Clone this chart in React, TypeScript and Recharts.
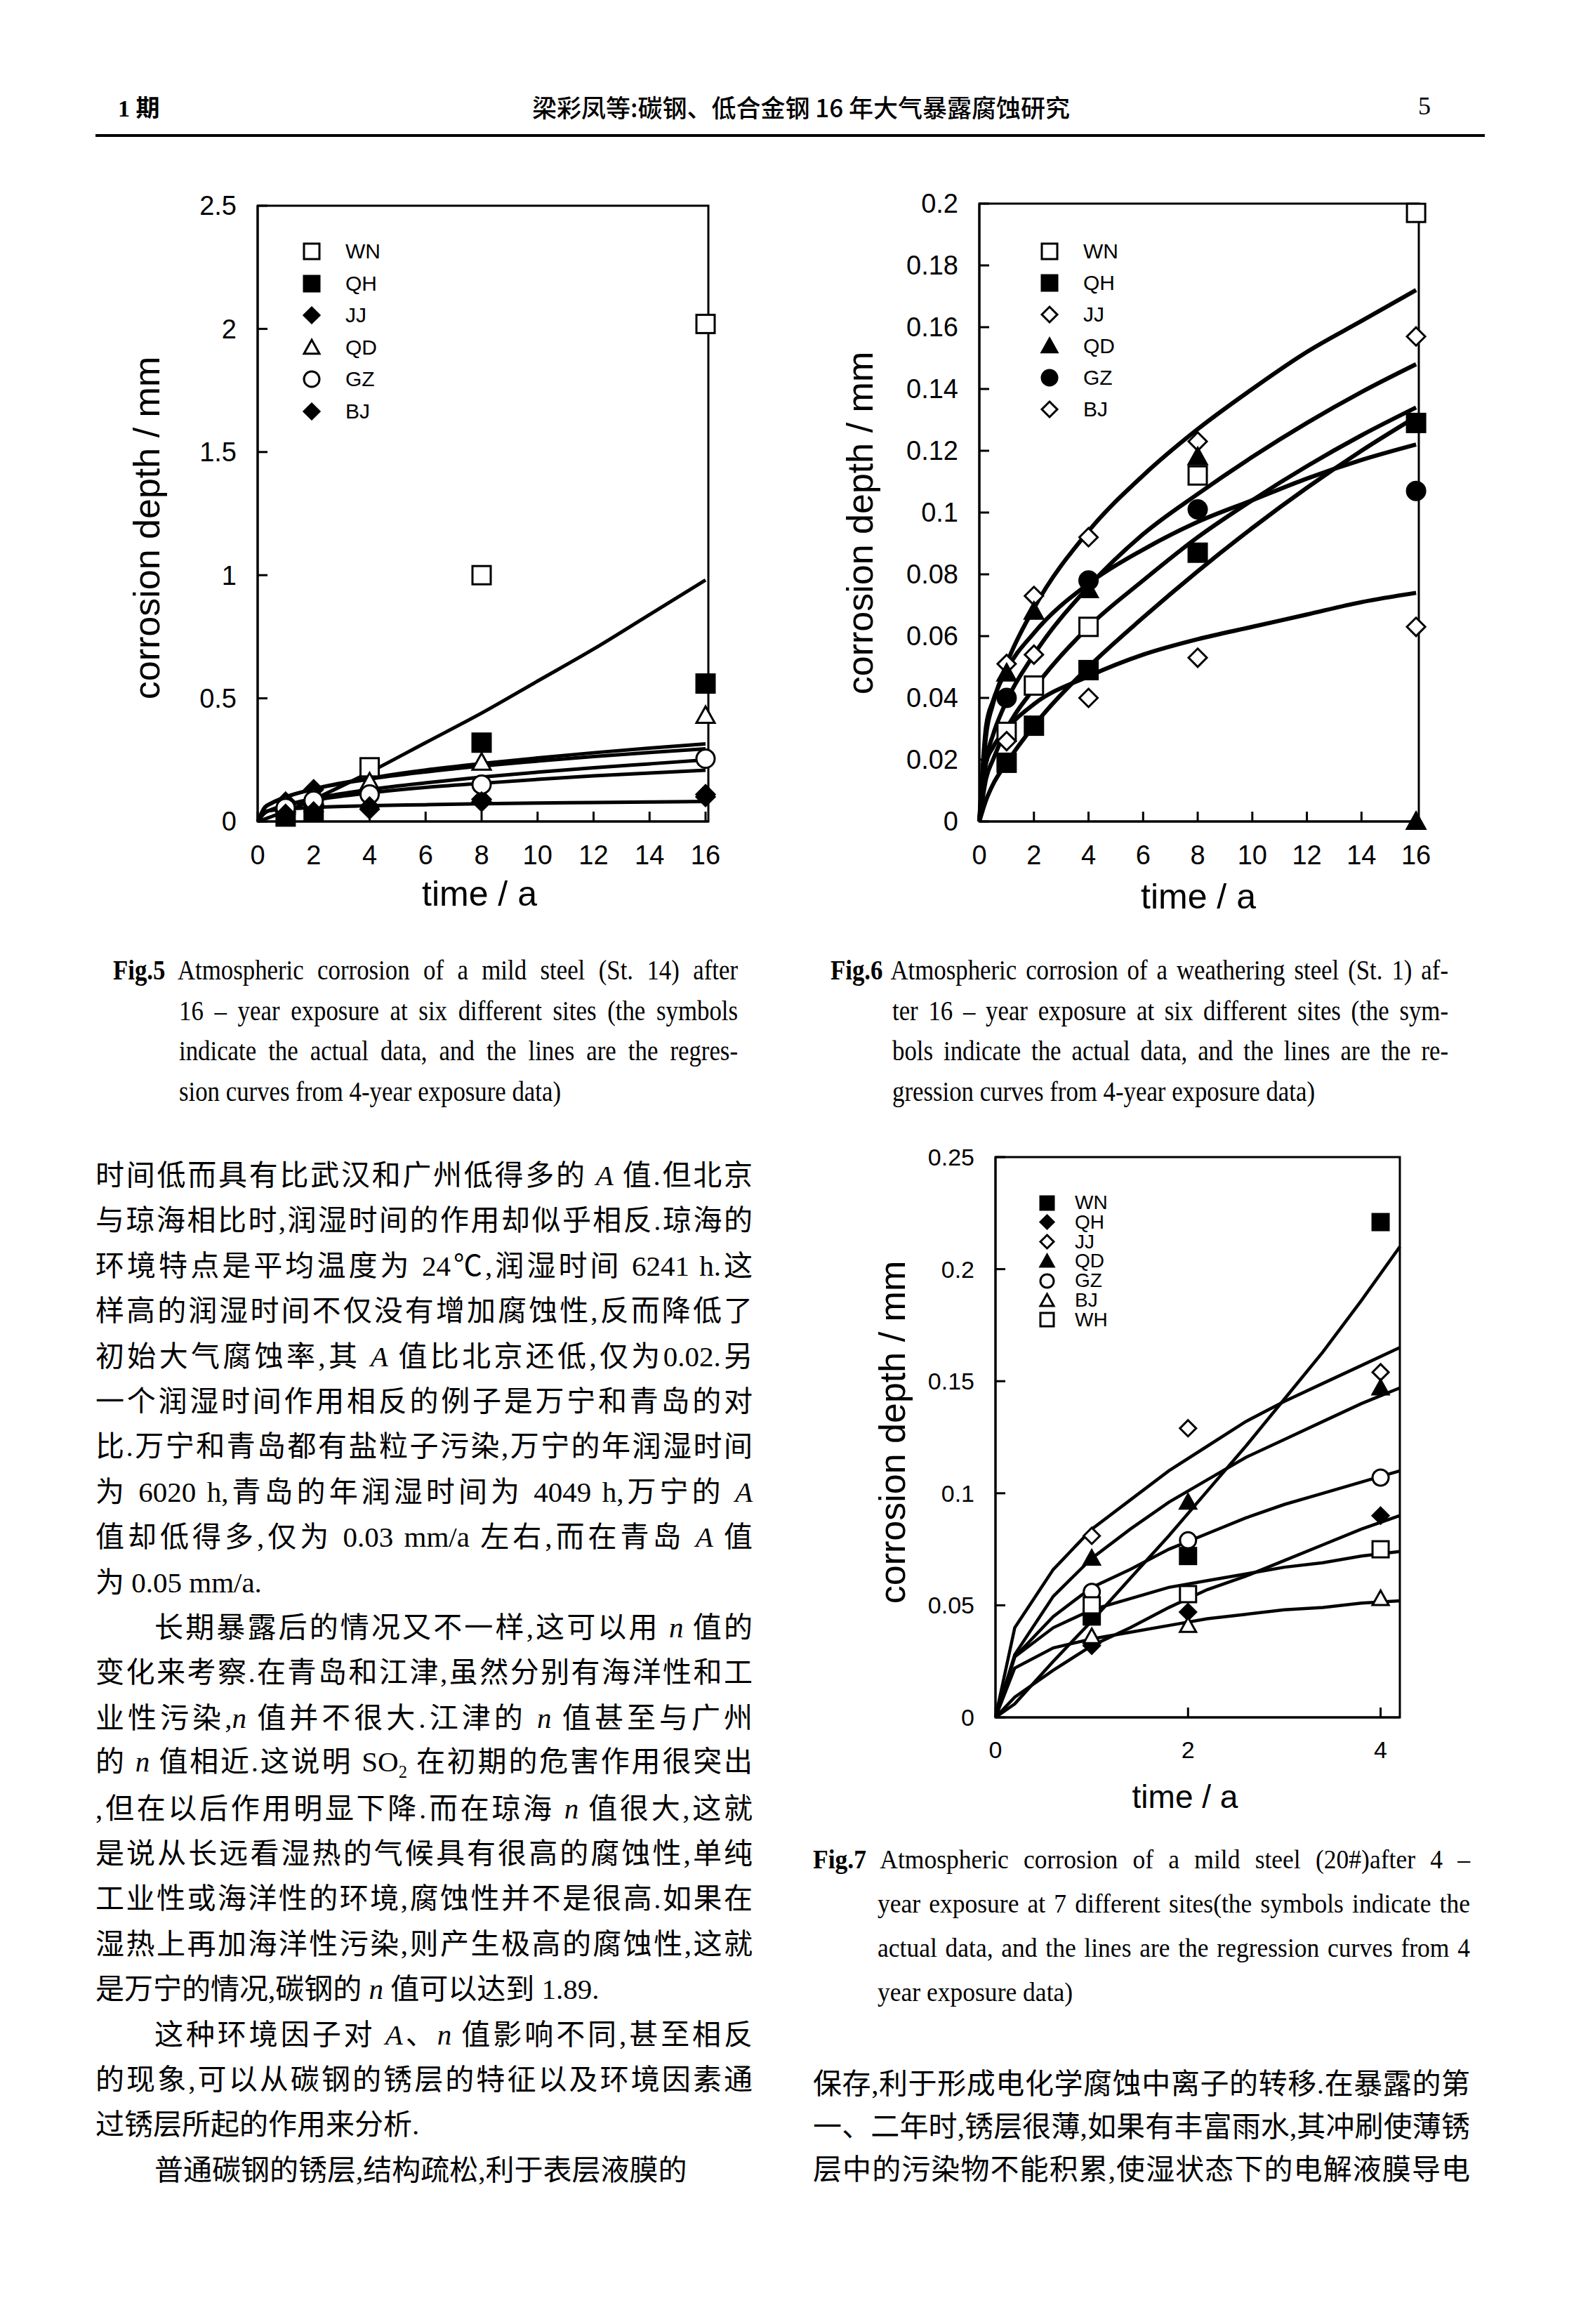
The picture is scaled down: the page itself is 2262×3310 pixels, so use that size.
import React from "react";
import { ComposedChart, Line, Scatter, XAxis, YAxis, ReferenceArea } from "recharts";

const INK = "#000";
const SANS = "'Liberation Sans', Arial, sans-serif";
const SERIF = "'Liberation Serif', 'Times New Roman', serif";
const CJK = "'Liberation Serif', 'Noto Sans CJK SC', serif";

// ---------- Fig.5 mild steel St.14, 16 years ----------
const fig5Sites = ["WN", "QH", "JJ", "QD", "GZ", "BJ"];
const fig5X = [
  [4, 8, 16],
  [1, 2, 8, 16],
  [1, 2, 4, 8, 16],
  [1, 2, 4, 8, 16],
  [1, 2, 4, 8, 16],
  [1, 2, 4, 8, 16],
];
const fig5Y = [
  [0.22, 1.0, 2.02],
  [0.02, 0.04, 0.32, 0.56],
  [0.08, 0.13, 0.05, 0.09, 0.11],
  [0.07, 0.1, 0.16, 0.24, 0.43],
  [0.055, 0.085, 0.11, 0.15, 0.255],
  [0.03, 0.04, 0.06, 0.08, 0.1],
];
const fig5CurveX = [0, 0.25, 0.5, 1, 2, 4, 6, 8, 10, 12, 14, 16];
const fig5Curves = [
  [0, 0.01, 0.02, 0.04, 0.09, 0.2, 0.32, 0.44, 0.57, 0.7, 0.84, 0.98],
  [0, 0.055, 0.073, 0.098, 0.132, 0.176, 0.209, 0.235, 0.258, 0.279, 0.298, 0.315],
  [0, 0.058, 0.076, 0.1, 0.131, 0.172, 0.201, 0.225, 0.245, 0.264, 0.28, 0.295],
  [0, 0.034, 0.048, 0.067, 0.093, 0.13, 0.157, 0.18, 0.2, 0.218, 0.234, 0.25],
  [0, 0.036, 0.048, 0.064, 0.086, 0.116, 0.138, 0.155, 0.171, 0.185, 0.197, 0.208],
  [0, 0.04, 0.045, 0.05, 0.057, 0.064, 0.068, 0.072, 0.075, 0.077, 0.079, 0.081],
];
const fig5YTicks = [0, 0.5, 1, 1.5, 2, 2.5];
const fig5XTicks = [0, 2, 4, 6, 8, 10, 12, 14, 16];

// ---------- Fig.6 weathering steel St.1, 16 years ----------
const fig6Sites = ["WN", "QH", "JJ", "QD", "GZ", "BJ"];
const fig6X = [
  [1, 2, 4, 8, 16],
  [1, 2, 4, 8, 16],
  [1, 2, 4, 8, 16],
  [1, 2, 4, 8, 16],
  [1, 4, 8, 16],
  [1, 2, 4, 8, 16],
];
const fig6Y = [
  [0.029, 0.044, 0.063, 0.112, 0.197],
  [0.019, 0.031, 0.049, 0.087, 0.129],
  [0.051, 0.073, 0.092, 0.123, 0.157],
  [0.048, 0.068, 0.075, 0.118, 0.0],
  [0.04, 0.078, 0.101, 0.107],
  [0.026, 0.054, 0.04, 0.053, 0.063],
];
const fig6CurveX = [0, 0.25, 0.5, 1, 2, 4, 6, 8, 10, 12, 14, 16];
const fig6Curves = [
  [0, 0.028, 0.038, 0.051, 0.069, 0.094, 0.112, 0.127, 0.14, 0.152, 0.162, 0.172],
  [0, 0.02, 0.028, 0.039, 0.054, 0.076, 0.093, 0.106, 0.118, 0.129, 0.139, 0.148],
  [0, 0.014, 0.02, 0.03, 0.043, 0.063, 0.078, 0.092, 0.104, 0.115, 0.125, 0.134],
  [0, 0.007, 0.012, 0.019, 0.031, 0.05, 0.066, 0.081, 0.095, 0.108, 0.12, 0.131],
  [0, 0.031, 0.039, 0.049, 0.061, 0.077, 0.088, 0.097, 0.104, 0.111, 0.117, 0.122],
  [0, 0.019, 0.024, 0.03, 0.038, 0.047, 0.054, 0.059, 0.063, 0.067, 0.071, 0.074],
];
const fig6YTicks = [0, 0.02, 0.04, 0.06, 0.08, 0.1, 0.12, 0.14, 0.16, 0.18, 0.2];
const fig6XTicks = [0, 2, 4, 6, 8, 10, 12, 14, 16];

// ---------- Fig.7 mild steel 20#, 4 years ----------
const fig7Sites = ["WN", "QH", "JJ", "QD", "GZ", "BJ", "WH"];
const fig7Years = [1, 2, 4];
const fig7Y = [
  [0.045, 0.072, 0.221],
  [0.032, 0.047, 0.09],
  [0.081, 0.129, 0.154],
  [0.071, 0.096, 0.147],
  [0.056, 0.079, 0.107],
  [0.036, 0.041, 0.053],
  [0.05, 0.055, 0.075],
];
const fig7CurveX = [0, 0.2, 0.6, 1, 1.4, 1.8, 2.2, 2.6, 3, 3.4, 3.8, 4.2];
const fig7Curves = [
  [0, 0.04, 0.066, 0.084, 0.097, 0.11, 0.121, 0.132, 0.141, 0.149, 0.157, 0.165],
  [0, 0.028, 0.054, 0.071, 0.084, 0.096, 0.106, 0.116, 0.124, 0.132, 0.14, 0.147],
  [0, 0.006, 0.025, 0.043, 0.062, 0.081, 0.101, 0.121, 0.142, 0.163, 0.186, 0.21],
  [0, 0.027, 0.045, 0.058, 0.066, 0.075, 0.082, 0.089, 0.095, 0.1, 0.105, 0.11],
  [0, 0.009, 0.021, 0.032, 0.04, 0.049, 0.057, 0.063, 0.07, 0.077, 0.084, 0.09],
  [0, 0.027, 0.04, 0.048, 0.053, 0.058, 0.061, 0.064, 0.067, 0.069, 0.072, 0.074],
  [0, 0.022, 0.031, 0.035, 0.038, 0.041, 0.044, 0.046, 0.048, 0.049, 0.051, 0.052],
];
const fig7YTicks = [0, 0.05, 0.1, 0.15, 0.2, 0.25];
const fig7XTicks = [0, 2, 4];

type Kind = "sqO" | "sqF" | "diO" | "diF" | "trO" | "trF" | "ciO" | "ciF";
const fig5Kinds: Kind[] = ["sqO", "sqF", "diF", "trO", "ciO", "diF"];
const fig6Kinds: Kind[] = ["sqO", "sqF", "diO", "trF", "ciF", "diO"];
const fig7Kinds: Kind[] = ["sqF", "diF", "diO", "trF", "ciO", "trO", "sqO"];

function toPts(xs: number[], ys: number[]) {
  return xs.map((x, i) => ({ x, y: ys[i] }));
}

function Mark({ kind, cx, cy, s }: { kind: Kind; cx: number; cy: number; s: number }) {
  const h = s / 2;
  const fill = kind.endsWith("F") ? INK : "#fff";
  const common = { fill, stroke: INK, strokeWidth: 3 };
  const shape = kind.slice(0, 2);
  if (shape === "sq") return <rect x={cx - h} y={cy - h} width={s} height={s} {...common} />;
  if (shape === "ci") return <circle cx={cx} cy={cy} r={h} {...common} />;
  if (shape === "di") {
    return <polygon points={`${cx},${cy - h} ${cx + h},${cy} ${cx},${cy + h} ${cx - h},${cy}`} {...common} />;
  }
  return <polygon points={`${cx},${cy - h} ${cx + h},${cy + h * 0.8} ${cx - h},${cy + h * 0.8}`} {...common} />;
}

type ChartProps = {
  wrap: [number, number, number, number];
  plot: [number, number, number, number];
  xMax: number;
  xTicks: number[];
  yMax: number;
  yTicks: number[];
  tickFont: number;
  xTickMargin: number;
  curveX: number[];
  curves: number[][];
  curveType: "monotone" | "linear";
  lineWidth: number;
  sites: string[];
  kinds: Kind[];
  px: number[][];
  py: number[][];
  markSize: number;
};

function CorrosionChart(p: ChartProps) {
  const [wl, wt, ww, wh] = p.wrap;
  const [pl, pt, pr, pb] = p.plot;
  const tick = { fontSize: p.tickFont, fill: INK, fontFamily: SANS };
  return (
    <div style={{ position: "absolute", left: wl, top: wt }}>
      <ComposedChart
        width={ww}
        height={wh}
        margin={{ top: pt - wt, right: wl + ww - pr, bottom: 0, left: 0 }}
      >
        <XAxis
          type="number"
          dataKey="x"
          domain={[0, p.xMax]}
          ticks={p.xTicks}
          interval={0}
          height={wt + wh - pb}
          tickSize={-14}
          tickMargin={p.xTickMargin}
          tick={tick}
          axisLine={{ stroke: INK, strokeWidth: 3 }}
          tickLine={{ stroke: INK, strokeWidth: 3 }}
        />
        <YAxis
          type="number"
          dataKey="y"
          domain={[0, p.yMax]}
          ticks={p.yTicks}
          interval={0}
          width={pl - wl}
          tickSize={-14}
          tickMargin={44}
          tick={tick}
          axisLine={{ stroke: INK, strokeWidth: 3 }}
          tickLine={{ stroke: INK, strokeWidth: 3 }}
        />
        <ReferenceArea x1={0} x2={p.xMax} y1={0} y2={p.yMax} fill="none" stroke={INK} strokeWidth={3} ifOverflow="visible" />
        {p.curves.map((c, i) => (
          <Line
            key={"c" + i}
            data={toPts(p.curveX, c)}
            dataKey="y"
            type={p.curveType}
            dot={false}
            activeDot={false}
            stroke={INK}
            strokeWidth={p.lineWidth}
            isAnimationActive={false}
          />
        ))}
        {p.sites.map((s, i) => (
          <Scatter
            key={s}
            name={s}
            data={toPts(p.px[i], p.py[i])}
            dataKey="y"
            isAnimationActive={false}
            shape={(sp: any) => <Mark kind={p.kinds[i]} cx={sp.cx} cy={sp.cy} s={p.markSize} />}
          />
        ))}
      </ComposedChart>
    </div>
  );
}

function Legend({ x, tx, y0, step, font, size, sites, kinds }: {
  x: number; tx: number; y0: number; step: number; font: number; size: number; sites: string[]; kinds: Kind[];
}) {
  const box = size + 8;
  return (
    <>
      {sites.map((s, i) => (
        <React.Fragment key={s}>
          <svg style={{ position: "absolute", left: x - box / 2, top: y0 + i * step - box / 2 }} width={box} height={box}>
            <Mark kind={kinds[i]} cx={box / 2} cy={box / 2} s={size} />
          </svg>
          <div style={{ position: "absolute", left: tx, top: y0 + i * step, transform: "translateY(-50%)", fontFamily: SANS, fontSize: font, lineHeight: 1 }}>
            {s}
          </div>
        </React.Fragment>
      ))}
    </>
  );
}

function AxisTitle({ x, y, text, rotate, size }: { x: number; y: number; text: string; rotate?: boolean; size: number }) {
  return (
    <div
      style={{
        position: "absolute", left: x, top: y, whiteSpace: "nowrap", fontFamily: SANS, fontSize: size, lineHeight: 1,
        transform: `translate(-50%, -50%)${rotate ? " rotate(-90deg)" : ""}`,
      }}
    >
      {text}
    </div>
  );
}

function TextLine({ x, y, w, size, font, justify, sx = 1, children }: {
  x: number; y: number; w: number; size: number; font: string; justify?: boolean; sx?: number; children: React.ReactNode;
}) {
  return (
    <div
      style={{
        position: "absolute", left: x, top: y, width: w / sx, whiteSpace: "nowrap",
        transform: `translateY(-50%) scaleX(${sx})`, transformOrigin: "left center",
        fontFamily: font, fontSize: size, lineHeight: 1.2, textAlign: justify ? "justify" : "left",
        textAlignLast: justify ? "justify" : "left", color: "#000",
      }}
    >
      {children}
    </div>
  );
}

const I = ({ c }: { c: string }) => <i style={{ fontFamily: SERIF }}>{c}</i>;

const leftLines: [React.ReactNode, boolean, boolean][] = [
  [<>时间低而具有比武汉和广州低得多的 <I c="A" /> 值.但北京</>, true, false],
  [<>与琼海相比时,润湿时间的作用却似乎相反.琼海的</>, true, false],
  [<>环境特点是平均温度为 24℃,润湿时间 6241 h.这</>, true, false],
  [<>样高的润湿时间不仅没有增加腐蚀性,反而降低了</>, true, false],
  [<>初始大气腐蚀率,其 <I c="A" /> 值比北京还低,仅为0.02.另</>, true, false],
  [<>一个润湿时间作用相反的例子是万宁和青岛的对</>, true, false],
  [<>比.万宁和青岛都有盐粒子污染,万宁的年润湿时间</>, true, false],
  [<>为 6020 h,青岛的年润湿时间为 4049 h,万宁的 <I c="A" /></>, true, false],
  [<>值却低得多,仅为 0.03 mm/a 左右,而在青岛 <I c="A" /> 值</>, true, false],
  [<>为 0.05 mm/a.</>, false, false],
  [<>长期暴露后的情况又不一样,这可以用 <I c="n" /> 值的</>, true, true],
  [<>变化来考察.在青岛和江津,虽然分别有海洋性和工</>, true, false],
  [<>业性污染,<I c="n" /> 值并不很大.江津的 <I c="n" /> 值甚至与广州</>, true, false],
  [<>的 <I c="n" /> 值相近.这说明 SO<sub style={{ fontSize: "0.6em" }}>2</sub> 在初期的危害作用很突出</>, true, false],
  [<>,但在以后作用明显下降.而在琼海 <I c="n" /> 值很大,这就</>, true, false],
  [<>是说从长远看湿热的气候具有很高的腐蚀性,单纯</>, true, false],
  [<>工业性或海洋性的环境,腐蚀性并不是很高.如果在</>, true, false],
  [<>湿热上再加海洋性污染,则产生极高的腐蚀性,这就</>, true, false],
  [<>是万宁的情况,碳钢的 <I c="n" /> 值可以达到 1.89.</>, false, false],
  [<>这种环境因子对 <I c="A" />、<I c="n" /> 值影响不同,甚至相反</>, true, true],
  [<>的现象,可以从碳钢的锈层的特征以及环境因素通</>, true, false],
  [<>过锈层所起的作用来分析.</>, false, false],
  [<>普通碳钢的锈层,结构疏松,利于表层液膜的</>, false, true],
];

const rightLines = [
  "保存,利于形成电化学腐蚀中离子的转移.在暴露的第",
  "一、二年时,锈层很薄,如果有丰富雨水,其冲刷使薄锈",
  "层中的污染物不能积累,使湿状态下的电解液膜导电",
];

const fig5Caption = [
  "Atmospheric corrosion of a mild steel (St. 14) after",
  "16 – year exposure at six different sites (the symbols",
  "indicate the actual data, and the lines are the regres-",
  "sion curves from 4-year exposure data)",
];
const fig6Caption = [
  "Atmospheric corrosion of a weathering steel (St. 1) af-",
  "ter 16 – year exposure at six different sites (the sym-",
  "bols indicate the actual data, and the lines are the re-",
  "gression curves from 4-year exposure data)",
];
const fig7Caption = [
  "Atmospheric corrosion of a mild steel (20#)after 4 –",
  "year exposure at 7 different sites(the symbols indicate the",
  "actual data, and the lines are the regression curves from 4",
  "year exposure data)",
];

function Caption({ label, lines, x, indent, right, y0, step, size, sx }: {
  label: string; lines: string[]; x: number; indent: number; right: number; y0: number; step: number; size: number; sx: number;
}) {
  return (
    <>
      {lines.map((l, i) => (
        <TextLine
          key={i}
          x={i === 0 ? x : indent}
          y={y0 + i * step}
          w={right - (i === 0 ? x : indent)}
          size={size}
          sx={sx}
          font={SERIF}
          justify={i < lines.length - 1}
        >
          {i === 0 ? <><b>{label}</b> {l}</> : l}
        </TextLine>
      ))}
    </>
  );
}

export default function App() {
  return (
    <div style={{ position: "relative", width: 2262, height: 3310, background: "#fff", overflow: "hidden", color: "#000" }}>
      <style>{`body{margin:0}`}</style>

      {/* running header */}
      <div style={{ position: "absolute", left: 168, top: 151, transform: "translateY(-50%)", fontFamily: CJK, fontSize: 34, fontWeight: 700 }}>1 期</div>
      <div style={{ position: "absolute", left: 1141, top: 151, transform: "translate(-50%, -50%)", fontFamily: "'Noto Sans CJK SC', sans-serif", fontSize: 35, fontWeight: 500, whiteSpace: "nowrap" }}>
        梁彩凤等:碳钢、低合金钢 16 年大气暴露腐蚀研究
      </div>
      <div style={{ position: "absolute", left: 2020, top: 151, transform: "translateY(-50%)", fontFamily: SERIF, fontSize: 36 }}>5</div>
      <div style={{ position: "absolute", left: 136, top: 191, width: 1979, height: 4, background: INK }} />

      {/* Fig.5 */}
      <CorrosionChart
        wrap={[150, 250, 900, 1000]}
        plot={[367, 293, 1009, 1170]}
        xMax={16.1}
        xTicks={fig5XTicks}
        yMax={2.5}
        yTicks={fig5YTicks}
        tickFont={38}
        xTickMargin={48}
        curveX={fig5CurveX}
        curves={fig5Curves}
        curveType="monotone"
        lineWidth={5}
        sites={fig5Sites}
        kinds={fig5Kinds}
        px={fig5X}
        py={fig5Y}
        markSize={26}
      />
      <Legend x={444} tx={492} y0={358} step={45.5} font={30} size={22} sites={fig5Sites} kinds={fig5Kinds} />
      <AxisTitle x={209} y={752} text="corrosion depth / mm" rotate size={52} />
      <AxisTitle x={683} y={1273} text="time / a" size={50} />

      {/* Fig.6 */}
      <CorrosionChart
        wrap={[1150, 250, 950, 1000]}
        plot={[1395, 290, 2021, 1170]}
        xMax={16.1}
        xTicks={fig6XTicks}
        yMax={0.2}
        yTicks={fig6YTicks}
        tickFont={38}
        xTickMargin={48}
        curveX={fig6CurveX}
        curves={fig6Curves}
        curveType="monotone"
        lineWidth={6}
        sites={fig6Sites}
        kinds={fig6Kinds}
        px={fig6X}
        py={fig6Y}
        markSize={26}
      />
      <Legend x={1495} tx={1543} y0={358} step={45} font={30} size={22} sites={fig6Sites} kinds={fig6Kinds} />
      <AxisTitle x={1225} y={745} text="corrosion depth / mm" rotate size={52} />
      <AxisTitle x={1707} y={1277} text="time / a" size={50} />

      {/* Fig.7 */}
      <CorrosionChart
        wrap={[1200, 1600, 850, 950]}
        plot={[1418, 1648, 1994, 2446]}
        xMax={4.2}
        xTicks={fig7XTicks}
        yMax={0.25}
        yTicks={fig7YTicks}
        tickFont={34}
        xTickMargin={48}
        curveX={fig7CurveX}
        curves={fig7Curves}
        curveType="linear"
        lineWidth={4.5}
        sites={fig7Sites}
        kinds={fig7Kinds}
        px={fig7Sites.map(() => fig7Years)}
        py={fig7Y}
        markSize={23}
      />
      <Legend x={1491} tx={1531} y0={1713} step={27.8} font={28} size={19} sites={fig7Sites} kinds={fig7Kinds} />
      <AxisTitle x={1271} y={2040} text="corrosion depth / mm" rotate size={52} />
      <AxisTitle x={1688} y={2559} text="time / a" size={46} />

      {/* captions */}
      <Caption label="Fig.5" lines={fig5Caption} x={161} indent={255} right={1051} y0={1382} step={57.5} size={40} sx={0.87} />
      <Caption label="Fig.6" lines={fig6Caption} x={1183} indent={1271} right={2063} y0={1382} step={57.5} size={40} sx={0.87} />
      <Caption label="Fig.7" lines={fig7Caption} x={1158} indent={1250} right={2094} y0={2649} step={63} size={37} sx={0.96} />

      {/* body text, left column */}
      {leftLines.map(([content, justify, indent], i) => (
        <TextLine key={i} x={indent ? 136 + 84 : 136} y={1675 + i * 64.4} w={indent ? 936 - 84 : 936} size={41} font={CJK} justify={justify}>
          {content}
        </TextLine>
      ))}

      {/* body text, right column */}
      {rightLines.map((t, i) => (
        <TextLine key={i} x={1158} y={2969 + i * 61} w={936} size={41} font={CJK} justify>
          {t}
        </TextLine>
      ))}
    </div>
  );
}
